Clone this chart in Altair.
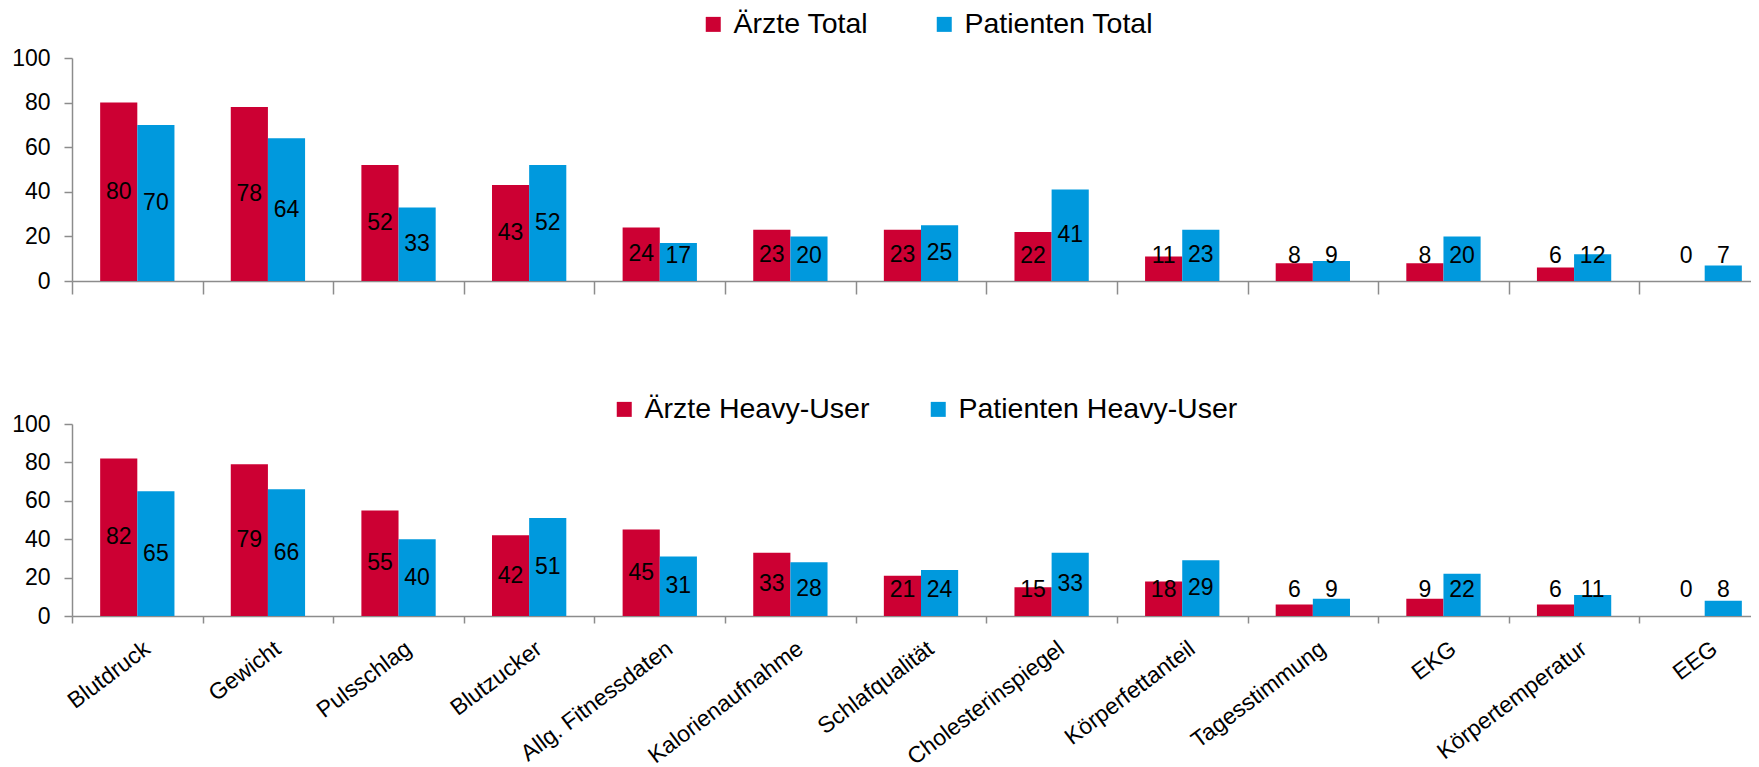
import altair as alt
import pandas as pd

categories = ["Blutdruck", "Gewicht", "Pulsschlag", "Blutzucker", "Allg. Fitnessdaten",
              "Kalorienaufnahme", "Schlafqualität", "Cholesterinspiegel", "Körperfettanteil",
              "Tagesstimmung", "EKG", "Körpertemperatur", "EEG"]
aerzte_total = [80, 78, 52, 43, 24, 23, 23, 22, 11, 8, 8, 6, 0]
patienten_total = [70, 64, 33, 52, 17, 20, 25, 41, 23, 9, 20, 12, 7]
aerzte_heavy = [82, 79, 55, 42, 45, 33, 21, 15, 18, 6, 9, 6, 0]
patienten_heavy = [65, 66, 40, 51, 31, 28, 24, 33, 29, 9, 22, 11, 8]

series_top = ["Ärzte Total", "Patienten Total"]
series_bottom = ["Ärzte Heavy-User", "Patienten Heavy-User"]
y_ticks = [0, 20, 40, 60, 80, 100]

RED = "#CC0033"
BLUE = "#0099DD"
GRAY = "#8C8C8C"
FONT = "Liberation Sans"

W = 1698


def make_df(names, a, b):
    rows = []
    for c, va, vb in zip(categories, a, b):
        rows.append({"Kategorie": c, "Gruppe": names[0], "Wert": va})
        rows.append({"Kategorie": c, "Gruppe": names[1], "Wert": vb})
    return pd.DataFrame(rows)


def panel(df, names, height, show_labels, tick_size, label_min, legend_x, legend_y, col_pad):
    x_axis = alt.Axis(
        title=None, labels=show_labels, tickBand="extent", tickSize=tick_size,
        tickColor=GRAY, tickWidth=1.5, domainColor=GRAY, domainWidth=1.5,
        labelAngle=-37, labelAlign="right", labelBaseline="top",
        labelFontSize=23, labelColor="#000000", labelPadding=14, labelOffset=3,
        labelLimit=0, labelOverlap=False,
    )
    x = alt.X("Kategorie:N", sort=categories, scale=alt.Scale(paddingInner=0, paddingOuter=0), axis=x_axis)
    xo = alt.XOffset("Gruppe:N", sort=names, scale=alt.Scale(domain=names, paddingInner=0, paddingOuter=0.758))
    y_axis = alt.Axis(
        title=None, values=y_ticks, tickCount=6, tickSize=8, tickColor=GRAY, tickWidth=1.5,
        domainColor=GRAY, domainWidth=1.5, labelFontSize=23, labelColor="#000000",
        labelPadding=14, grid=False, labelOverlap=False, labelSeparation=0,
    )
    y_scale = alt.Scale(domain=[0, 100])
    base = alt.Chart(df)
    bars = base.mark_bar().encode(
        x=x,
        xOffset=xo,
        y=alt.Y("Wert:Q", scale=y_scale, axis=y_axis),
        color=alt.Color(
            "Gruppe:N", sort=names,
            scale=alt.Scale(domain=names, range=[RED, BLUE]),
            legend=alt.Legend(
                title=None, orient="none", legendX=legend_x, legendY=legend_y,
                direction="horizontal", symbolType="square", symbolSize=225,
                symbolStrokeWidth=0, symbolOpacity=1, labelFontSize=28.5,
                labelColor="#000000", labelOffset=6, columnPadding=col_pad, padding=0,
                labelLimit=0,
            ),
        ),
    )
    text = base.transform_calculate(
        lab_y=f"max(datum.Wert / 2, {label_min})"
    ).mark_text(fontSize=23, color="#000000", baseline="middle", align="center").encode(
        x=x,
        xOffset=xo,
        y=alt.Y("lab_y:Q", scale=y_scale, axis=y_axis),
        text=alt.Text("Wert:Q"),
    )
    return alt.layer(bars, text).properties(width=W, height=height)


top = panel(make_df(series_top, aerzte_total, patienten_total), series_top,
            223, False, 13, 11.2, 627, -48, 61)
bottom = panel(make_df(series_bottom, aerzte_heavy, patienten_heavy), series_bottom,
               192, True, 7, 13.3, 538, -29, 54)

chart = alt.vconcat(top, bottom, spacing=100).resolve_scale(
    color="independent", xOffset="independent"
).properties(
    padding={"left": 3, "top": 2, "right": -20, "bottom": 0}
).configure(
    font=FONT
).configure_axis(
    labelOverlap=False
).configure_view(
    stroke=None
)

chart.save("out.html", embed_options={"renderer": "svg", "actions": False})
